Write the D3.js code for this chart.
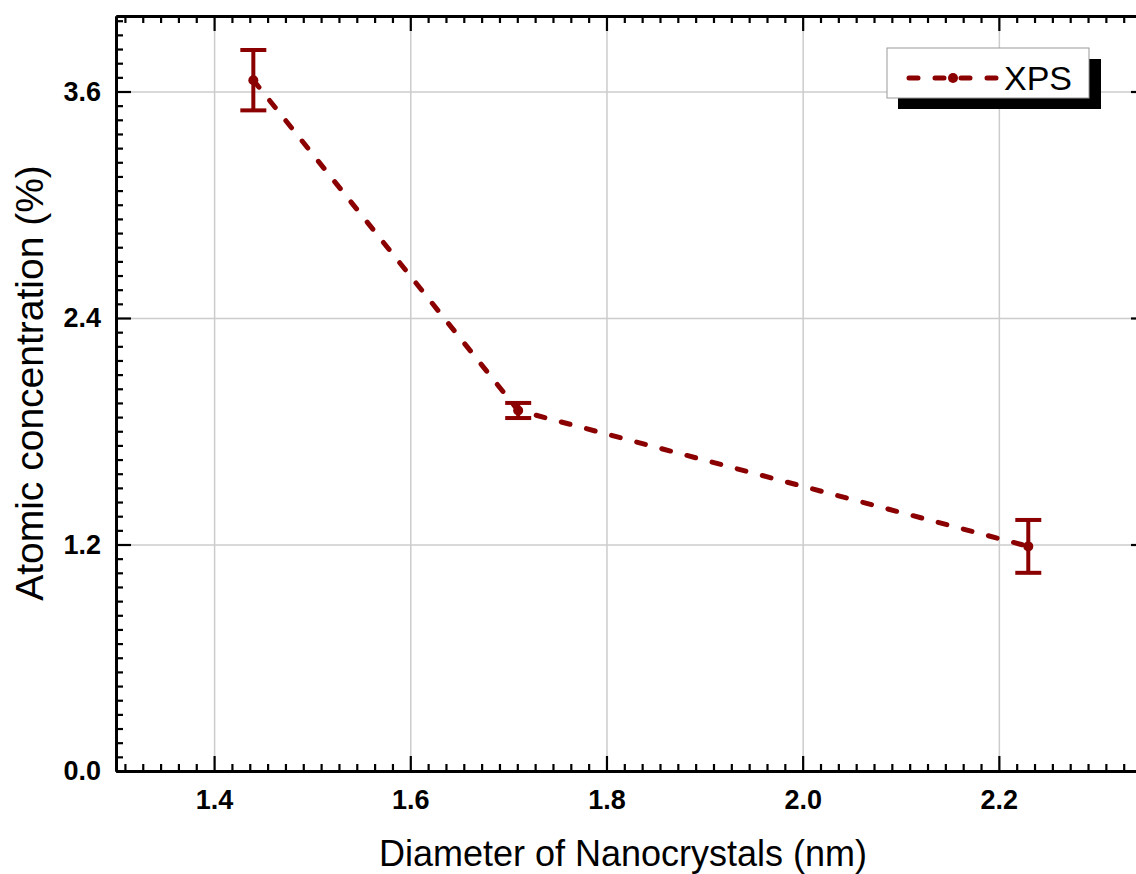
<!DOCTYPE html>
<html>
<head>
<meta charset="utf-8">
<script src="https://cdn.jsdelivr.net/npm/d3@7"></script>
<style>
  html, body { margin: 0; padding: 0; background: #fff; }
  svg { display: block; font-family: "Liberation Sans", Arial, sans-serif; }
  .tick-label text { font-weight: bold; font-size: 27px; fill: #000; }
</style>
</head>
<body>
<svg id="chart" width="1136" height="874"></svg>
<script>
// XPS atomic concentration vs nanocrystal diameter
const diameters = [1.44, 1.71, 2.23];
const concentration = [3.66, 1.91, 1.19];
const errors = [0.16, 0.04, 0.14];

const xTicks = [1.4, 1.6, 1.8, 2.0, 2.2];
const yTicks = [0.0, 1.2, 2.4, 3.6];
const xMinorPerMajor = 10;   // minor ticks between two majors
const yMinorPerMajor = 15;

const seriesName = "XPS";
const xTitle = "Diameter of Nanocrystals (nm)";
const yTitle = "Atomic concentration (%)";

const color = "#8b0000";

const svg = d3.select("#chart");
const plotL = 116, plotR = 1146, plotT = 16, plotB = 771;

const x = d3.scaleLinear().domain([1.3, 2.35]).range([plotL, plotR]);
const y = d3.scaleLinear().domain([0, 4]).range([plotB, plotT]);

// minor tick values
function minorTicks(majors, per, domain) {
    const step = (majors[1] - majors[0]) / (per + 1);
    const out = [];
    for (let v = majors[0] - step; v > domain[0] + 1e-9; v -= step) out.push(v);
    for (let i = 0; i < majors.length; i++) {
        for (let k = 1; k <= per; k++) {
            const v = majors[i] + k * step;
            if (v < domain[1] - 1e-9) out.push(v);
        }
    }
    return out;
}
const xMinor = minorTicks(xTicks, xMinorPerMajor, x.domain());
const yMinor = minorTicks(yTicks, yMinorPerMajor, y.domain());

// grid
svg.append("g")
    .attr("transform", `translate(0,${plotB})`)
    .call(d3.axisBottom(x).tickValues(xTicks).tickSize(-(plotB - plotT)).tickFormat(""))
    .call(g => g.select(".domain").remove())
    .call(g => g.selectAll("line").attr("stroke", "#cccccc").attr("stroke-width", 1.5));
svg.append("g")
    .attr("transform", `translate(${plotL},0)`)
    .call(d3.axisLeft(y).tickValues(yTicks.filter(v => v > 0)).tickSize(-(plotR - plotL)).tickFormat(""))
    .call(g => g.select(".domain").remove())
    .call(g => g.selectAll("line").attr("stroke", "#cccccc").attr("stroke-width", 1.5));

// axes helpers
function styleAxis(g) {
    g.select(".domain").attr("stroke", "#000").attr("stroke-width", 3);
    g.selectAll(".tick line").attr("stroke", "#000").attr("stroke-width", 2.2);
}

// bottom
svg.append("g")
    .attr("transform", `translate(0,${plotB})`)
    .call(d3.axisBottom(x).tickValues(xMinor).tickSizeInner(-7).tickSizeOuter(0).tickFormat(""))
    .call(styleAxis);
svg.append("g")
    .attr("class", "tick-label")
    .attr("transform", `translate(0,${plotB})`)
    .call(d3.axisBottom(x).tickValues(xTicks).tickSizeInner(-15).tickSizeOuter(0)
        .tickPadding(19).tickFormat(d3.format(".1f")))
    .call(styleAxis);

// top
svg.append("g")
    .attr("transform", `translate(0,${plotT})`)
    .call(d3.axisTop(x).tickValues(xMinor).tickSizeInner(-7).tickSizeOuter(0).tickFormat(""))
    .call(styleAxis);
svg.append("g")
    .attr("transform", `translate(0,${plotT})`)
    .call(d3.axisTop(x).tickValues(xTicks).tickSizeInner(-15).tickSizeOuter(0).tickFormat(""))
    .call(styleAxis);

// left
svg.append("g")
    .attr("transform", `translate(${plotL},0)`)
    .call(d3.axisLeft(y).tickValues(yMinor).tickSizeInner(-7).tickSizeOuter(0).tickFormat(""))
    .call(styleAxis);
svg.append("g")
    .attr("class", "tick-label")
    .attr("transform", `translate(${plotL},0)`)
    .call(d3.axisLeft(y).tickValues(yTicks).tickSizeInner(-15).tickSizeOuter(0)
        .tickPadding(15).tickFormat(d3.format(".1f")))
    .call(styleAxis);

// right
svg.append("g")
    .attr("transform", `translate(${plotR},0)`)
    .call(d3.axisRight(y).tickValues(yMinor).tickSizeInner(-7).tickSizeOuter(0).tickFormat(""))
    .call(styleAxis);
svg.append("g")
    .attr("transform", `translate(${plotR},0)`)
    .call(d3.axisRight(y).tickValues(yTicks).tickSizeInner(-15).tickSizeOuter(0).tickFormat(""))
    .call(styleAxis);

// axis titles
svg.append("text")
    .attr("x", 623)
    .attr("y", 866)
    .attr("text-anchor", "middle")
    .attr("font-size", 36)
    .attr("fill", "#000")
    .text(xTitle);

svg.append("text")
    .attr("transform", "translate(43,383) rotate(-90)")
    .attr("text-anchor", "middle")
    .attr("font-size", 39)
    .attr("fill", "#000")
    .text(yTitle);

// data
const pts = diameters.map((d, i) => ({ x: d, y: concentration[i], e: errors[i] }));

svg.append("path")
    .datum(pts)
    .attr("fill", "none")
    .attr("stroke", color)
    .attr("stroke-width", 5)
    .attr("stroke-dasharray", "9 17")
    .attr("stroke-linecap", "round")
    .attr("d", d3.line().x(d => x(d.x)).y(d => y(d.y)));

const eb = svg.append("g").attr("stroke", color).attr("stroke-width", 4);
const capW = 13;
pts.forEach(p => {
    const cx = x(p.x);
    eb.append("line").attr("x1", cx).attr("x2", cx).attr("y1", y(p.y + p.e)).attr("y2", y(p.y - p.e));
    eb.append("line").attr("x1", cx - capW).attr("x2", cx + capW).attr("y1", y(p.y + p.e)).attr("y2", y(p.y + p.e));
    eb.append("line").attr("x1", cx - capW).attr("x2", cx + capW).attr("y1", y(p.y - p.e)).attr("y2", y(p.y - p.e));
});

svg.append("g").selectAll("circle")
    .data(pts)
    .join("circle")
    .attr("cx", d => x(d.x))
    .attr("cy", d => y(d.y))
    .attr("r", 5)
    .attr("fill", color);

// legend
const lg = svg.append("g").attr("transform", "translate(887,48)");
lg.append("rect").attr("x", 11).attr("y", 11).attr("width", 203).attr("height", 50).attr("fill", "#000");
lg.append("rect").attr("width", 202).attr("height", 50).attr("fill", "#fff")
    .attr("stroke", "#999").attr("stroke-width", 1);
lg.append("line")
    .attr("x1", 22).attr("x2", 110).attr("y1", 30).attr("y2", 30)
    .attr("stroke", color).attr("stroke-width", 5)
    .attr("stroke-dasharray", "9 17").attr("stroke-linecap", "round");
lg.append("circle").attr("cx", 66).attr("cy", 30).attr("r", 5).attr("fill", color);
lg.append("text").attr("x", 117).attr("y", 42)
    .attr("font-size", 34).attr("fill", "#000").text(seriesName);
</script>
</body>
</html>
